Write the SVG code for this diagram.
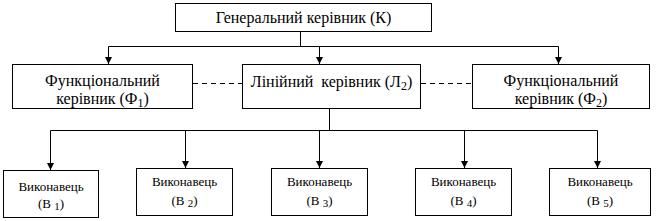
<svg xmlns="http://www.w3.org/2000/svg" width="658" height="221" viewBox="0 0 658 221">
<style>
.box{fill:#fff;stroke:#000;stroke-width:1}
.ln{fill:none;stroke:#000;stroke-width:1}
.dash{fill:none;stroke:#000;stroke-width:1;stroke-dasharray:5 4}
.t{font-family:"Liberation Serif","Times New Roman",serif;font-size:16px;fill:#000;text-anchor:middle;white-space:pre}
.s{font-family:"Liberation Serif","Times New Roman",serif;font-size:13px;fill:#000;text-anchor:middle;white-space:pre}
</style>
<defs>
<marker id="ah" markerUnits="userSpaceOnUse" markerWidth="8" markerHeight="8" refX="7" refY="3.5" orient="auto">
<path d="M0,0 L7,3.5 L0,7 z" fill="#000"/>
</marker>
</defs>
<g id="connectors">
<path class="ln" d="M300.5,31.5 V46.5"/>
<path class="ln" d="M108.5,46.5 H558.5"/>
<path class="ln" d="M108.5,46.5 V64" marker-end="url(#ah)"/>
<path class="ln" d="M319.5,46.5 V64" marker-end="url(#ah)"/>
<path class="ln" d="M558.5,46.5 V64" marker-end="url(#ah)"/>
<path class="dash" d="M193,83.5 H242"/>
<path class="dash" d="M421,83.5 H472"/>
<path class="ln" d="M329.5,108.5 V130.5"/>
<path class="ln" d="M50.5,130.5 H597.5"/>
<path class="ln" d="M50.5,130.5 V170" marker-end="url(#ah)"/>
<path class="ln" d="M185.5,130.5 V168" marker-end="url(#ah)"/>
<path class="ln" d="M319.5,130.5 V168" marker-end="url(#ah)"/>
<path class="ln" d="M464.5,130.5 V168" marker-end="url(#ah)"/>
<path class="ln" d="M597.5,130.5 V168" marker-end="url(#ah)"/>
</g>
<g id="K">
<rect class="box" x="175.5" y="3.5" width="256" height="28"/>
<text class="t" x="303.5" y="23">Генеральний керівник (К)</text>
</g>
<g id="F1">
<rect class="box" x="12.5" y="64.5" width="180" height="44"/>
<text class="t" x="102.5" y="86">Функціональний</text>
<text class="t" x="102.5" y="104">керівник (Ф<tspan font-size="12" dy="3">1</tspan><tspan dy="-3">)</tspan></text>
</g>
<g id="L2">
<rect class="box" x="242.5" y="64.5" width="178" height="44"/>
<text class="t" x="331.5" y="87">Лінійний  керівник (Л<tspan font-size="12" dy="3">2</tspan><tspan dy="-3">)</tspan></text>
</g>
<g id="F2">
<rect class="box" x="472.5" y="64.5" width="177" height="44"/>
<text class="t" x="561" y="86">Функціональний</text>
<text class="t" x="561" y="104">керівник (Ф<tspan font-size="12" dy="3">2</tspan><tspan dy="-3">)</tspan></text>
</g>
<g id="B1">
<rect class="box" x="3.5" y="170.5" width="95" height="47"/>
<text class="s" x="51" y="191">Виконавець</text>
<text class="s" x="51" y="208">(В <tspan font-size="11" dy="2">1</tspan><tspan dy="-2">)</tspan></text>
</g>
<g id="B2">
<rect class="box" x="136.5" y="168.5" width="96" height="47"/>
<text class="s" x="184.5" y="186">Виконавець</text>
<text class="s" x="184.5" y="205">(В <tspan font-size="11" dy="2">2</tspan><tspan dy="-2">)</tspan></text>
</g>
<g id="B3">
<rect class="box" x="271.5" y="168.5" width="96" height="47"/>
<text class="s" x="319.5" y="186">Виконавець</text>
<text class="s" x="319.5" y="205">(В <tspan font-size="11" dy="2">3</tspan><tspan dy="-2">)</tspan></text>
</g>
<g id="B4">
<rect class="box" x="415.5" y="168.5" width="96" height="47"/>
<text class="s" x="463.5" y="186">Виконавець</text>
<text class="s" x="463.5" y="205">(В <tspan font-size="11" dy="2">4</tspan><tspan dy="-2">)</tspan></text>
</g>
<g id="B5">
<rect class="box" x="549.5" y="168.5" width="101" height="47"/>
<text class="s" x="600" y="186">Виконавець</text>
<text class="s" x="600" y="205">(В <tspan font-size="11" dy="2">5</tspan><tspan dy="-2">)</tspan></text>
</g>
</svg>
